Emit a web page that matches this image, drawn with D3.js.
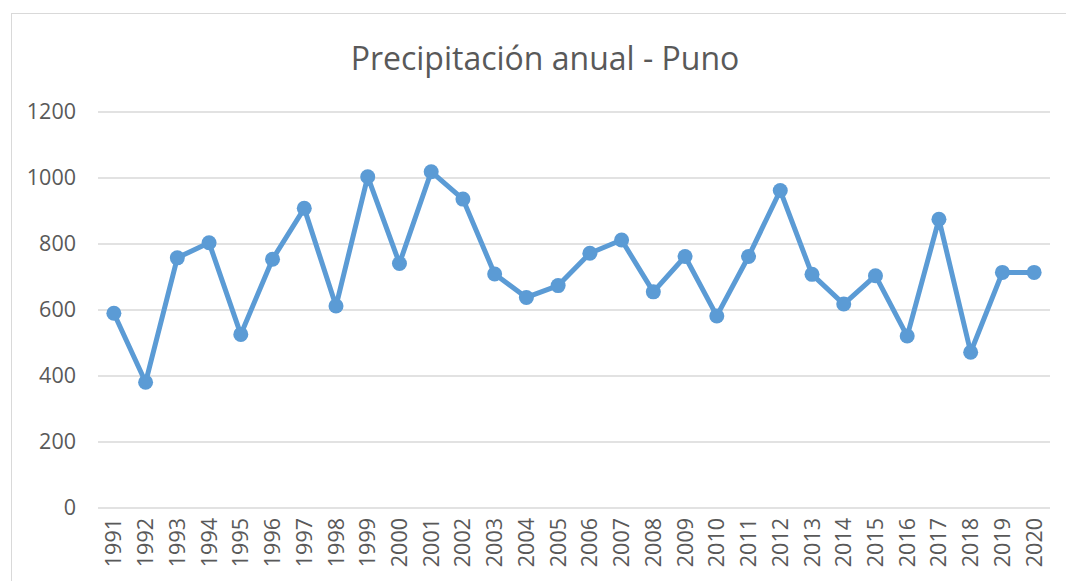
<!DOCTYPE html>
<html>
<head>
<meta charset="utf-8">
<script src="https://cdn.jsdelivr.net/npm/d3@7"></script>
<style>
  body { margin: 0; background: #fff; }
  svg { display: block; }
</style>
</head>
<body>
<svg id="chart" width="1066" height="581"></svg>
<script>
// data
var years = ["1991","1992","1993","1994","1995","1996","1997","1998","1999","2000",
  "2001","2002","2003","2004","2005","2006","2007","2008","2009","2010",
  "2011","2012","2013","2014","2015","2016","2017","2018","2019","2020"];
var precip = [590, 381, 758, 804, 526, 754, 908, 612, 1004, 741,
  1019, 936, 709, 638, 674, 772, 812, 655, 762, 582,
  762, 962, 708, 618, 704, 521, 875, 472, 714, 714];
var yTicks = [0, 200, 400, 600, 800, 1000, 1200];
var title = "Precipitación anual - Puno";

var font = "'Open Sans', sans-serif";
var svg = d3.select("#chart");

// chart frame
svg.append("rect")
  .attr("x", 11.5).attr("y", 13.5)
  .attr("width", 1070).attr("height", 580)
  .attr("fill", "#fff")
  .attr("stroke", "#d9d9d9")
  .attr("stroke-width", 1);

var plotL = 98, plotR = 1050, plotT = 112, plotB = 508;

var x = d3.scaleBand().domain(years).range([plotL, plotR]);
var y = d3.scaleLinear().domain([0, 1200]).range([plotB, plotT]);

// gridlines
svg.append("g").selectAll("line")
  .data(yTicks)
  .enter().append("line")
  .attr("x1", plotL).attr("x2", plotR)
  .attr("y1", function(d){ return y(d); })
  .attr("y2", function(d){ return y(d); })
  .attr("stroke", "#d9d9d9")
  .attr("stroke-width", 1.5);

// y axis labels
var yAxis = d3.axisLeft(y).tickValues(yTicks).tickFormat(d3.format("d"))
  .tickSize(0).tickPadding(0);
svg.append("g")
  .attr("transform", "translate(76,0)")
  .call(yAxis)
  .call(function(g){ g.select(".domain").remove(); })
  .selectAll("text")
  .attr("font-family", font)
  .attr("font-size", 21.5)
  .attr("fill", "#595959");

// x axis labels, rotated
var xAxis = d3.axisBottom(x).tickSize(0).tickPadding(0);
svg.append("g")
  .attr("transform", "translate(0," + plotB + ")")
  .call(xAxis)
  .call(function(g){ g.select(".domain").remove(); })
  .selectAll("text")
  .attr("font-family", font)
  .attr("font-size", 21.5)
  .attr("fill", "#595959")
  .attr("text-anchor", "end")
  .attr("dy", "0.35em")
  .attr("transform", "translate(0,10) rotate(-90)")
  .attr("x", 0).attr("y", 0);

// line
var line = d3.line()
  .x(function(d, i){ return x(years[i]) + x.bandwidth() / 2; })
  .y(function(d){ return y(d); });

svg.append("path")
  .datum(precip)
  .attr("d", line)
  .attr("fill", "none")
  .attr("stroke", "#5b9bd5")
  .attr("stroke-width", 5)
  .attr("stroke-linejoin", "round");

svg.append("g").selectAll("circle")
  .data(precip)
  .enter().append("circle")
  .attr("cx", function(d, i){ return x(years[i]) + x.bandwidth() / 2; })
  .attr("cy", function(d){ return y(d); })
  .attr("r", 7.5)
  .attr("fill", "#5b9bd5");

// title
svg.append("text")
  .attr("x", 545).attr("y", 70)
  .attr("text-anchor", "middle")
  .attr("font-family", font)
  .attr("font-size", 32)
  .attr("fill", "#595959")
  .text(title);
</script>
</body>
</html>
